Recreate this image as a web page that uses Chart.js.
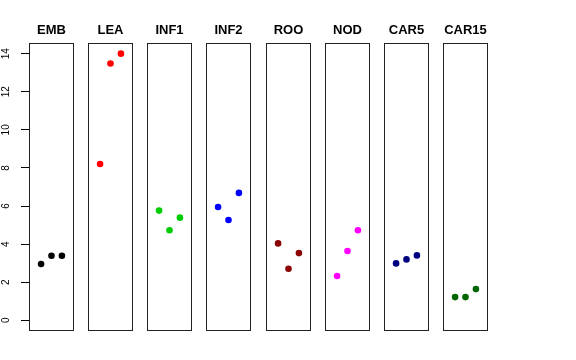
<!DOCTYPE html>
<html>
<head>
<meta charset="utf-8">
<title>Replicates by tissue</title>
<script src="https://cdn.jsdelivr.net/npm/chart.js"></script>
<style>
  body { margin: 0; background: #fff; }
  #wrap { position: relative; width: 576px; height: 360px; overflow: hidden; }
  #wrap canvas { position: absolute; top: 0; }
</style>
</head>
<body>
<div id="wrap"></div>

<script>
// data
const tissues = ['EMB', 'LEA', 'INF1', 'INF2', 'ROO', 'NOD', 'CAR5', 'CAR15'];
const replicate = [1, 2, 3];
const rep1 = [2.96, 8.21, 5.76, 5.95, 4.04, 2.33, 2.99, 1.22];
const rep2 = [3.39, 13.48, 4.73, 5.27, 2.71, 3.64, 3.20, 1.22];
const rep3 = [3.39, 14.00, 5.39, 6.69, 3.53, 4.73, 3.41, 1.64];
const yTicks = [0, 2, 4, 6, 8, 10, 12, 14];
const colours = ['#000000', '#FF0000', '#00CD00', '#0000FF', '#8B0000', '#FF00FF', '#000080', '#006400'];

const FONT = 'Liberation Sans, Arial, Helvetica, sans-serif';

// box around each panel
const panelBox = {
    id: 'panelBox',
    afterDraw(chart) {
        const a = chart.chartArea;
        const ctx = chart.ctx;
        ctx.save();
        ctx.strokeStyle = '#222';
        ctx.lineWidth = 1;
        ctx.strokeRect(Math.round(a.left) + 0.5, Math.round(a.top) + 0.5,
                       Math.round(a.right - a.left) - 1, Math.round(a.bottom - a.top) - 1);
        ctx.restore();
    }
};

const wrap = document.getElementById('wrap');

tissues.forEach(function (name, i) {
    const first = i === 0;
    const canvas = document.createElement('canvas');
    const left = first ? 0 : Math.round(29 + i * 59.15);
    const width = first ? 74 : 45;
    canvas.width = width;
    canvas.height = 360;
    canvas.style.left = left + 'px';
    wrap.appendChild(canvas);

    const pts = replicate.map((r, k) => ({ x: r, y: [rep1, rep2, rep3][k][i] }));

    new Chart(canvas.getContext('2d'), {
        type: 'scatter',
        data: {
            datasets: [{
                label: name,
                data: pts,
                backgroundColor: colours[i],
                borderWidth: 0,
                pointRadius: 3.3,
                pointHoverRadius: 3.3
            }]
        },
        options: {
            responsive: false,
            animation: false,
            layout: { autoPadding: false, padding: { top: 0, bottom: 29, left: 0, right: 0 } },
            plugins: {
                legend: { display: false },
                tooltip: { enabled: false },
                title: {
                    display: true,
                    text: name,
                    fullSize: false,
                    color: '#000',
                    font: { family: FONT, size: 13, weight: 'bold', lineHeight: 1 },
                    padding: { top: 24, bottom: 6 }
                }
            },
            scales: {
                x: {
                    type: 'linear',
                    min: -0.16,
                    max: 4.16,
                    display: false
                },
                y: {
                    type: 'linear',
                    min: -0.56,
                    max: 14.56,
                    display: first,
                    afterBuildTicks: s => { s.ticks = yTicks.map(v => ({ value: v })); },
                    afterFit: s => {
                        if (!first) return;
                        s.width = 29;
                        s.paddingTop = 0;
                        s.paddingBottom = 0;
                    },
                    border: { display: false },
                    grid: {
                        drawOnChartArea: false,
                        drawTicks: true,
                        tickLength: 8,
                        color: '#000'
                    },
                    ticks: {
                        color: '#000',
                        font: { family: FONT, size: 10 },
                        minRotation: 90,
                        maxRotation: 90,
                        crossAlign: 'center',
                        padding: 9
                    }
                }
            }
        },
        plugins: [panelBox]
    });
});
</script>
</body>
</html>
